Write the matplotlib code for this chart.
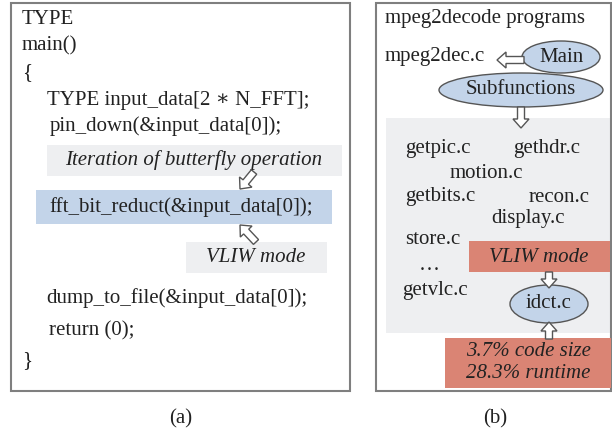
import matplotlib.pyplot as plt
from matplotlib.patches import Rectangle, Ellipse, FancyArrow

plt.rcParams['font.family'] = ['Liberation Serif', 'DejaVu Serif']

# panel (a): code listing, (text, x, y)
code_lines = [
    ("TYPE", 22, 19),
    ("main()", 22, 46),
    ("{", 22, 73),
    ("TYPE input_data[2 \u2217 N_FFT];", 47, 100),
    ("pin_down(&input_data[0]);", 50, 126),
    ("dump_to_file(&input_data[0]);", 46, 298),
    ("return (0);", 49, 331),
    ("}", 22, 361),
]
hl_line = "fft_bit_reduct(&input_data[0]);"
note_iter = "Iteration of butterfly operation"
note_vliw = "VLIW mode"

# panel (b): file names, (text, x, y)
files = [
    ("getpic.c", 405, 148),
    ("gethdr.c", 513, 148),
    ("motion.c", 450, 174),
    ("getbits.c", 405, 197),
    ("recon.c", 529, 197),
    ("display.c", 491, 219),
    ("store.c", 405, 239),
    ("\u2026", 419, 266),
    ("getvlc.c", 402, 291),
]
stats = ["3.7% code size", "28.3% runtime"]

GRAY = '#eeeff1'
BLUE = '#c3d4e9'
RED = '#da8474'
EDGE = '#7f7f7f'
FS = 15

fig = plt.figure(figsize=(6.12, 4.34), dpi=100)
ax = fig.add_axes([0, 0, 1, 1])
ax.set_xlim(0, 612)
ax.set_ylim(434, 0)
ax.axis('off')

def box(x0, y0, x1, y1, fc, ec='none', lw=0, z=1):
    ax.add_patch(Rectangle((x0, y0), x1 - x0, y1 - y0, fc=fc, ec=ec, lw=lw, zorder=z))

def arrow(x0, y0, x1, y1, w=7, hw=16, hl=9):
    ax.add_patch(FancyArrow(x0, y0, x1 - x0, y1 - y0, width=w, head_width=hw,
                            head_length=hl, length_includes_head=True,
                            fc='white', ec='#555555', lw=1, zorder=5))

# frames
box(11, 3, 350, 391, 'none', EDGE, 1.5, 2)
box(376, 3, 611, 391, 'none', EDGE, 1.5, 2)

# panel (a)
for t, x, y in code_lines:
    ax.text(x, y, t, fontsize=FS, va='center', ha='left', color='#222222')
box(47, 145, 342, 176, GRAY)
ax.text(194, 160, note_iter, fontsize=FS, style='italic', va='center', ha='center', color='#222222')
box(36, 190, 332, 224, BLUE)
ax.text(49, 207, hl_line, fontsize=FS, va='center', ha='left', color='#222222')
box(186, 242, 327, 273, GRAY)
ax.text(256, 258, note_vliw, fontsize=FS, style='italic', va='center', ha='center', color='#222222')
arrow(254, 172, 240, 189)
arrow(256, 242, 240, 225)

# panel (b)
ax.text(385, 19, "mpeg2decode programs", fontsize=FS, va='center', ha='left', color='#222222')
ax.text(385, 57, "mpeg2dec.c", fontsize=FS, va='center', ha='left', color='#222222')
ax.add_patch(Ellipse((561, 57), 78, 32, fc=BLUE, ec='#555555', lw=1, zorder=3))
ax.text(561, 57, "Main", fontsize=FS, va='center', ha='center', color='#222222', zorder=4)
arrow(524, 60, 497, 60)
ax.add_patch(Ellipse((521, 90), 164, 34, fc=BLUE, ec='#555555', lw=1, zorder=3))
ax.text(521, 90, "Subfunctions", fontsize=FS, va='center', ha='center', color='#222222', zorder=4)
arrow(521, 107, 521, 128)

box(386, 118, 611, 333, GRAY)
for t, x, y in files:
    ax.text(x, y, t, fontsize=FS, va='center', ha='left', color='#222222', zorder=4)
box(469, 241, 610, 272, RED, z=3)
ax.text(539, 257, "VLIW mode", fontsize=FS, style='italic', va='center', ha='center', color='#222222', zorder=4)
arrow(549, 272, 549, 288)
ax.add_patch(Ellipse((549, 304), 78, 38, fc=BLUE, ec='#555555', lw=1, zorder=3))
ax.text(549, 304, "idct.c", fontsize=FS, va='center', ha='center', color='#222222', zorder=4)
arrow(549, 339, 549, 322)
box(445, 338, 611, 388, RED, z=3)
ax.text(528, 352, stats[0], fontsize=FS, style='italic', va='center', ha='center', color='#222222', zorder=4)
ax.text(528, 373, stats[1], fontsize=FS, style='italic', va='center', ha='center', color='#222222', zorder=4)

ax.text(181, 419, "(a)", fontsize=FS, va='center', ha='center', color='#222222')
ax.text(495, 419, "(b)", fontsize=FS, va='center', ha='center', color='#222222')

fig.savefig('out.png', dpi=100)
